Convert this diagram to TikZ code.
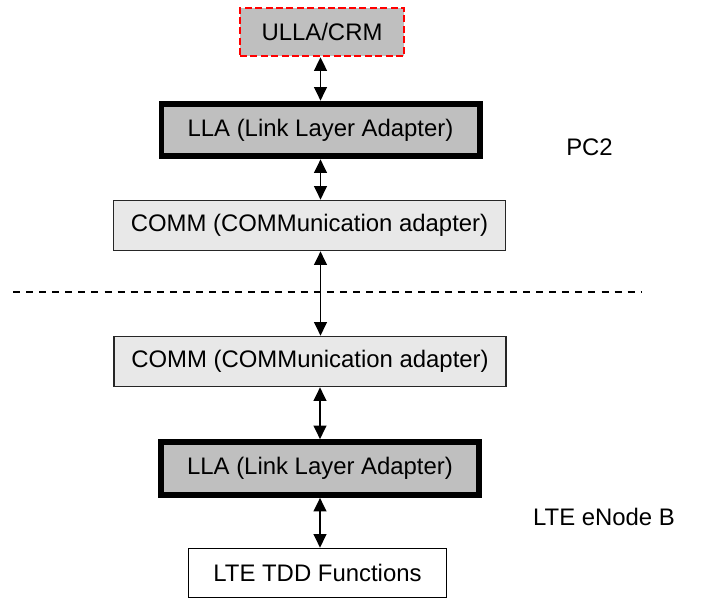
\documentclass[tikz,border=0pt]{standalone}
\usepackage{fontspec}
\setmainfont{Liberation Sans}
\usetikzlibrary{arrows.meta,positioning}

\begin{document}
\begin{tikzpicture}[
  x=0.025cm, y=-0.025cm,
  font=\fontsize{17}{20}\selectfont,
  ctrl/.style={draw=red, dash pattern=on 5pt off 2.4pt, line width=1.8pt, fill=black!25,
               minimum width=4.1cm, minimum height=1.2cm, inner sep=0pt},
  llabox/.style={draw=black, line width=4.2pt, fill=black!25,
                 minimum width=7.95cm, minimum height=1.32cm, inner sep=0pt},
  commbox/.style={draw=black!85, line width=1.2pt, fill=black!9,
                  minimum width=9.8cm, minimum height=1.25cm, inner sep=0pt},
  funcbox/.style={draw=black, line width=1.2pt, fill=white,
                  minimum width=6.45cm, minimum height=1.225cm, inner sep=0pt},
  arr/.style={{Triangle[length=0.34cm, width=0.32cm]}-{Triangle[length=0.34cm, width=0.32cm]},
              line width=1.3pt, draw=black},
  lab/.style={inner sep=0pt},
  sepline/.style={draw=black, line width=1.4pt, dash pattern=on 5pt off 4.3pt}
]
\useasboundingbox (0,0) rectangle (702,600);

% ---------------- PC2 side ----------------
\node[ctrl] (ulla) at (322, 32) {ULLA/CRM};
\node[llabox] (llaTop) at (320.5, 130) {LLA (Link Layer Adapter)};
\node[commbox] (commTop) at (309.5, 225.5) {COMM (COMMunication adapter)};
\node[lab] (pc) at (589.5, 147) {PC2};

% ---------------- separator ----------------
\coordinate (sepL) at (13, 292);
\coordinate (sepR) at (642, 292);
\draw[sepline] (sepL) -- (sepR);

% ---------------- eNode B side ----------------
\node[commbox] (commBot) at (310, 361.5) {COMM (COMMunication adapter)};
\node[llabox] (llaBot) at (320, 468.5) {LLA (Link Layer Adapter)};
\node[funcbox] (tdd) at (317.5, 573) {LTE TDD Functions};
\node[lab] (enb) at (604, 517) {LTE eNode B};

% ---------------- arrows ----------------
\draw[arr] (ulla.south -| llaTop) -- (llaTop.north);
\draw[arr] (llaTop.south) -- (llaTop.south |- commTop.north);
\draw[arr] (llaTop.south |- commTop.south) -- (llaTop.south |- commBot.north);
\draw[arr] (llaBot.north |- commBot.south) -- (llaBot.north);
\draw[arr] (llaBot.south) -- (llaBot.south |- tdd.north);

\end{tikzpicture}
\end{document}
